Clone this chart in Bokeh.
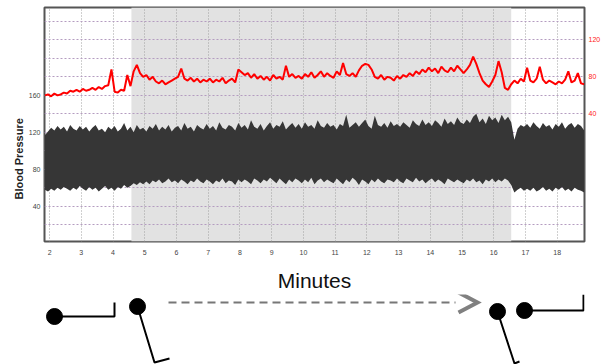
import numpy as np
from bokeh.plotting import figure
from bokeh.models import Range1d, LinearAxis, FixedTicker, BoxAnnotation, Title
from bokeh.layouts import column
from bokeh.embed import file_html
from bokeh.resources import INLINE

# ---------------- data ----------------
minutes = np.round(1.85 + 0.1 * np.arange(171), 2)

heart_rate = [
    60, 61,
    59, 62, 60, 61, 63, 62, 65, 64, 66, 64,
    67, 65, 66, 68, 66, 69, 67, 70, 71, 88,
    64, 63, 66, 65, 82, 70, 86, 93, 84, 80,
    82, 77, 80, 75, 73, 76, 72, 74, 76, 78,
    80, 89, 78, 76, 79, 75, 78, 74, 77, 75,
    78, 74, 77, 75, 79, 73, 76, 78, 74, 88,
    85, 82, 84, 79, 83, 78, 81, 77, 80, 76,
    82, 78, 80, 77, 92, 80, 83, 79, 81, 78,
    83, 80, 85, 79, 82, 86, 80, 84, 81, 79,
    86, 82, 95, 83, 81, 84, 80, 87, 92, 94,
    93, 88, 80, 78, 82, 77, 80, 79, 76, 81,
    78, 82, 80, 84, 81, 86, 83, 88, 85, 90,
    86, 89, 84, 91, 87, 85, 90, 86, 92, 88,
    84, 88, 93, 102, 94, 84, 76, 72, 69, 75,
    82, 97, 85, 68, 66, 72, 76, 73, 78, 75,
    90, 76, 74, 78, 91, 77, 73, 76, 74, 72,
    75, 73, 77, 86, 74, 76, 84, 73, 72,
]

bp_systolic = [
    117, 121, 125, 122, 127, 123, 126, 121, 128, 124, 122, 127,
    123, 126, 121, 125, 128, 122, 124, 120, 126, 123,
    127, 121, 124, 130, 122, 126, 120, 128, 123, 125,
    121, 127, 124, 129, 122, 126, 123, 128, 121, 125,
    127, 122, 130, 124, 126, 121, 128, 125, 123, 129,
    124, 127, 122, 131, 125, 123, 128, 126, 122, 130,
    125, 128, 123, 133, 126, 124, 129, 122, 127, 131,
    124, 128, 126, 132, 123, 127, 130, 125, 129, 124,
    131, 126, 128, 124, 133, 127, 125, 130, 126, 128,
    123, 129, 127, 139, 125, 128, 131, 126, 130, 134,
    127, 124, 138, 128, 126, 130, 125, 132, 127, 129,
    126, 131, 128, 125, 133, 129, 127, 134, 128, 131,
    127, 133, 130, 126, 135, 129, 132, 128, 136, 131,
    129, 134, 130, 137, 140, 131, 135, 129, 138, 133,
    136, 130, 139, 133, 137, 131, 112, 124, 128, 126,
    129, 125, 131, 127, 124, 130, 126, 128, 123, 129,
    126, 131, 124, 128, 130, 125, 129, 127, 122,
]

bp_diastolic = [
    58, 56, 59, 57, 60, 58, 61, 59, 57, 60, 58, 62,
    59, 57, 61, 58, 60, 56, 59, 62, 58, 60,
    57, 61, 59, 63, 60, 62, 65, 63, 66, 64,
    67, 64, 68, 66, 69, 65, 67, 70, 66, 68,
    65, 69, 67, 64, 68, 66, 70, 67, 65, 69,
    67, 64, 68, 66, 70, 65, 68, 67, 63, 69,
    66, 69, 67, 64, 70, 68, 65, 69, 67, 71,
    68, 65, 70, 67, 64, 69, 66, 70, 68, 65,
    69, 66, 71, 64, 68, 70, 66, 69, 67, 65,
    70, 67, 64, 69, 66, 71, 68, 63, 69, 67,
    64, 69, 66, 70, 67, 65, 69, 68, 66, 70,
    67, 65, 70, 68, 66, 71, 67, 69, 65, 68,
    70, 66, 69, 67, 64, 70, 68, 66, 69, 67,
    65, 69, 67, 70, 66, 68, 64, 69, 67, 70,
    66, 69, 67, 70, 68, 63, 55, 58, 60, 57,
    59, 57, 60, 56, 58, 61, 57, 59, 56, 60,
    58, 61, 57, 59, 56, 60, 58, 57, 55,
]

assert len(heart_rate) == len(minutes) == len(bp_systolic) == len(bp_diastolic)

tilt_start, tilt_end = 4.58, 16.55
minute_ticks = list(range(2, 19))
bp_ticks = [40, 80, 120, 160]
bp_grid = list(range(20, 260, 20))
hr_ticks = [40, 80, 120]

# schematic (tilt-table) drawing geometry, in page pixels
dash_x, dash_y = [168, 455], [302, 302]
chevron_x, chevron_y = [458, 477, 458], [292, 302, 312]
heads_x, heads_y = [54, 137, 497, 524], [316, 306, 311, 310]
bodies_xs = [[54, 114, 114], [137, 154, 169], [497, 514, 519], [524, 583, 583]]
bodies_ys = [[316, 316, 302], [306, 362, 358], [311, 363, 361], [310, 310, 294]]

FONT = "Liberation Sans"
LEFT, RIGHT = 44, 22   # shared frame borders (px) so both panels align

# ---------------- chart ----------------
p = figure(width=606, height=294, x_range=Range1d(1.84, 18.86),
           y_range=Range1d(2, 255), output_backend="svg",
           toolbar_location=None, min_border_left=LEFT, min_border_right=RIGHT,
           min_border_top=7, min_border_bottom=52)
p.extra_y_ranges = {"hr": Range1d(-98, 155)}

p.add_layout(BoxAnnotation(left=tilt_start, right=tilt_end,
                           fill_color="#e2e2e2", fill_alpha=1.0,
                           line_color=None, level="image"))

p.xgrid.ticker = FixedTicker(ticks=minute_ticks)
p.xgrid.grid_line_color = "#a0a0a0"
p.xgrid.grid_line_dash = "1 2"
p.ygrid.ticker = FixedTicker(ticks=bp_grid)
p.ygrid.grid_line_color = "#b49cc0"
p.ygrid.grid_line_dash = "2 2"

p.varea(x=minutes, y1=bp_diastolic, y2=bp_systolic, fill_color="#363636")
p.line(minutes, heart_rate, y_range_name="hr", line_color="#ff0000",
       line_width=2)

p.outline_line_color = "#555555"
p.outline_line_width = 2

hr_axis = LinearAxis(y_range_name="hr", ticker=FixedTicker(ticks=hr_ticks))
p.add_layout(hr_axis, "right")

p.xaxis.ticker = FixedTicker(ticks=minute_ticks)
p.yaxis[0].ticker = FixedTicker(ticks=bp_ticks)

for ax in p.axis:
    ax.axis_line_color = None
    ax.major_tick_line_color = None
    ax.minor_tick_line_color = None
    ax.major_tick_out = 0
    ax.major_tick_in = 0
    ax.major_label_text_font = FONT
    ax.major_label_text_font_size = "7px"
    ax.major_label_text_color = "#444444"
    ax.major_label_standoff = 4
hr_axis.major_label_text_color = "#ff2020"

p.xaxis.major_label_standoff = 8
p.xaxis.axis_label = "Minutes"
p.xaxis.axis_label_text_font = FONT
p.xaxis.axis_label_text_font_size = "21px"
p.xaxis.axis_label_text_font_style = "normal"
p.xaxis.axis_label_text_color = "#111111"
p.xaxis.axis_label_standoff = 11

p.add_layout(Title(text="Blood Pressure", align="left", offset=42,
                   text_font=FONT, text_font_size="11px",
                   text_font_style="bold", text_color="#222222",
                   standoff=2), "left")

# ---------------- schematic below ----------------
q = figure(width=606, height=70, x_range=Range1d(LEFT, 606 - RIGHT),
           y_range=Range1d(364, 294), output_backend="svg",
           toolbar_location=None, x_axis_type=None, y_axis_type=None,
           min_border_left=LEFT, min_border_right=RIGHT,
           min_border_top=0, min_border_bottom=0)
q.grid.visible = False
q.outline_line_color = None
q.line(dash_x, dash_y, line_color="#777777", line_width=2, line_dash="8 5")
q.line(chevron_x, chevron_y, line_color="#808080", line_width=4,
       line_join="miter")
q.multi_line(bodies_xs, bodies_ys, line_color="black", line_width=2)
q.scatter(heads_x, heads_y, size=16, fill_color="black", line_color="black")

layout = column(p, q, spacing=0)
open("out.html", "w").write(file_html(layout, INLINE))
